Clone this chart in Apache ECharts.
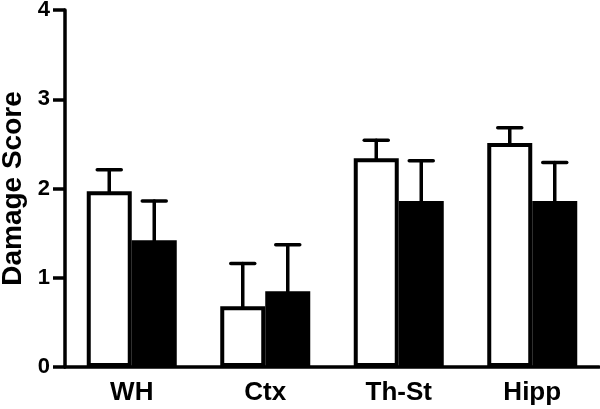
<!DOCTYPE html>
<html>
<head>
<meta charset="utf-8">
<script src="https://cdn.jsdelivr.net/npm/echarts@6/dist/echarts.min.js"></script>
<style>html,body{margin:0;padding:0;background:#fff;}#c{width:600px;height:409px;}</style>
</head>
<body>
<div id="c"></div>
<script>
const categories = ['WH', 'Ctx', 'Th-St', 'Hipp'];
const whiteMeans = [1.97, 0.68, 2.34, 2.51];
const whiteErr = [0.24, 0.48, 0.20, 0.17];
const blackMeans = [1.42, 0.85, 1.86, 1.86];
const blackErr = [0.44, 0.52, 0.45, 0.43];
const yTicks = [0, 1, 2, 3, 4];

const BAR_W = 45;
const FONT = "'Liberation Sans', Arial, sans-serif";

function errData(means, errs) {
  return means.map((m, i) => [i, m, m + errs[i]]);
}
function errSeries(means, errs, offset) {
  return {
    type: 'custom',
    z: 1,
    data: errData(means, errs),
    encode: { x: 0, y: [1, 2] },
    renderItem: function (params, api) {
      const p0 = api.coord([api.value(0), api.value(1)]);
      const p1 = api.coord([api.value(0), api.value(2)]);
      const x = p0[0] + offset;
      const style = { stroke: '#000', lineWidth: 3.5, lineCap: 'round' };
      return {
        type: 'group',
        children: [
          { type: 'line', shape: { x1: x, y1: p0[1], x2: x, y2: p1[1] }, style: style },
          { type: 'line', shape: { x1: x - 12, y1: p1[1], x2: x + 12, y2: p1[1] }, style: style }
        ]
      };
    }
  };
}

const chart = echarts.init(document.getElementById('c'), null, { renderer: 'canvas' });
chart.setOption({
  animation: false,
  backgroundColor: '#fff',
  grid: { left: 65, right: 1, top: 10, bottom: 42, containLabel: false, outerBoundsMode: 'none' },
  xAxis: {
    type: 'category',
    data: categories,
    axisLine: { lineStyle: { color: '#000', width: 3.5 } },
    axisTick: { alignWithLabel: true, length: 11, lineStyle: { color: '#000', width: 3.5 } },
    axisLabel: { color: '#000', fontFamily: FONT, fontWeight: 'bold', fontSize: 26, margin: 13 },
    splitLine: { show: false }
  },
  yAxis: {
    type: 'value',
    min: yTicks[0],
    max: yTicks[yTicks.length - 1],
    interval: 1,
    name: 'Damage Score',
    nameLocation: 'middle',
    nameGap: 37,
    nameTextStyle: { color: '#000', fontFamily: FONT, fontWeight: 'bold', fontSize: 28 },
    axisLine: { show: true, lineStyle: { color: '#000', width: 3.5 } },
    axisTick: { show: true, length: 12, lineStyle: { color: '#000', width: 3.5 } },
    axisLabel: { color: '#000', fontFamily: FONT, fontWeight: 'bold', fontSize: 22, margin: 15 },
    splitLine: { show: false }
  },
  series: [
    errSeries(whiteMeans, whiteErr, -BAR_W / 2),
    errSeries(blackMeans, blackErr, BAR_W / 2),
    {
      type: 'bar',
      z: 2,
      data: whiteMeans,
      barWidth: BAR_W,
      barGap: '0%',
      itemStyle: { color: '#fff', borderColor: '#000', borderWidth: 4 }
    },
    {
      type: 'bar',
      z: 2,
      data: blackMeans,
      barWidth: BAR_W,
      barGap: '0%',
      itemStyle: { color: '#000', borderColor: '#000', borderWidth: 4 }
    }
  ]
});
</script>
</body>
</html>
